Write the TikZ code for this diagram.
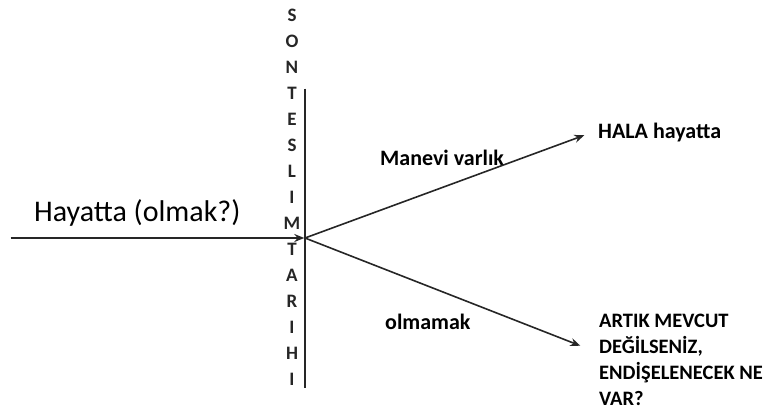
\documentclass[tikz,border=0pt]{standalone}
\usepackage{fontspec}
\setmainfont{Carlito}
\usetikzlibrary{arrows.meta}
\begin{document}
\begin{tikzpicture}[x=1pt, y=-1pt,
  letter/.style={font=\fontsize{19}{19}\selectfont\bfseries, inner sep=0pt, text=black!85},
  label/.style={font=\fontsize{22}{26}\selectfont\bfseries, inner sep=0pt, anchor=west},
  arr/.style={-{Stealth[length=10pt, width=8pt]}, line width=1.6pt, black!85}
]
\useasboundingbox (0,0) rectangle (772,416);
% vertical time line and its letters
\node[inner sep=0pt] (top) at (305, 88) {};
\node[inner sep=0pt] (bottom) at (305, 389) {};
\node[inner sep=0pt] (mid) at (305, 238) {};
\node[inner sep=0pt] (start) at (10, 238) {};
\draw[line width=1.6pt, black!85] (top) -- (bottom);
\foreach \l [count=\i] in {S,O,N,T,E,S,L,I,M,T,A,R,I,H,I}
  \node[letter] (l\i) at (292, {15+26.05*(\i-1)}) {\l};
% texts
\node[font=\fontsize{30}{30}\selectfont, inner sep=0pt, anchor=west] (life) at (34, 213) {Hayatta (olmak?)};
\node[label] (spirit) at (380, 158) {Manevi varlık};
\node[label] (still) at (598, 133) {HALA hayatta};
\node[label] (notbe) at (385, 322) {olmamak};
\node[label, font=\fontsize{20.5}{26}\selectfont\bfseries, align=left, anchor=north west] (worry) at (599, 314)
  {ARTIK MEVCUT\\DEĞİLSENİZ,\\ENDİŞELENECEK NE\\VAR?};
\node[inner sep=0pt] (upend) at (585, 135) {};
\node[inner sep=0pt] (lowend) at (581, 346) {};
% arrows
\draw[arr] (start) -- (mid);
\draw[arr] (mid) -- (upend);
\draw[arr] (mid) -- (lowend);
\end{tikzpicture}
\end{document}
